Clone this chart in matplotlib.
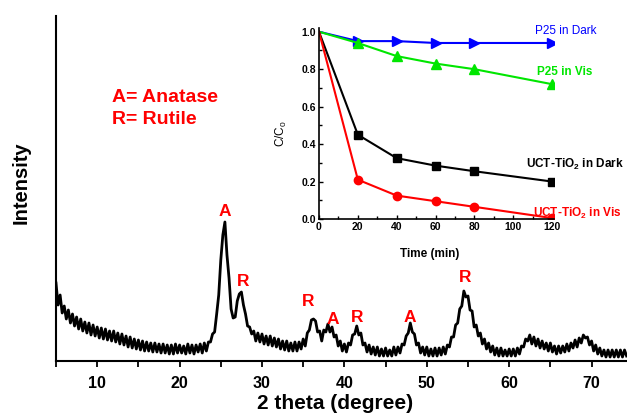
import numpy as np
import matplotlib
matplotlib.use('Agg')
import matplotlib.pyplot as plt
from matplotlib.ticker import MultipleLocator

plt.rcParams['font.family'] = ['Liberation Sans', 'DejaVu Sans']
plt.rcParams['mathtext.fontset'] = 'custom'
plt.rcParams['mathtext.rm'] = 'Liberation Sans'
plt.rcParams['mathtext.bf'] = 'Liberation Sans:bold'

# =====XRD 数据 (2theta 5 ~ 74.25, 步长 0.25, 强度为读图估计的任意单位)
intensity = [
    78, 56, 66, 48,   # 5
    55, 42, 51, 38,   # 6
    47, 35, 44, 32,   # 7
    42, 30, 39, 28,   # 8
    38, 26, 36, 25,   # 9
    34, 23, 33, 22,   # 10
    32, 21, 30, 20,   # 11
    30, 19, 28, 17,   # 12
    27, 16, 25, 14,   # 13
    24, 13, 22, 12,   # 14
    21, 11, 20, 10,   # 15
    19, 10, 18, 9,    # 16
    18, 9, 17, 8,     # 17
    17, 8, 16, 7,     # 18
    16, 7, 17, 8,     # 19
    16, 8, 15, 7,     # 20
    17, 8, 16, 7,     # 21
    16, 9, 17, 8,     # 22
    18, 10, 19, 19,   # 23
    27, 29, 47, 66,   # 24
    101, 126, 139, 106,  # 25
    83, 52, 43, 44,   # 26
    60, 67, 69, 56,   # 27
    47, 35, 34, 27,   # 28
    30, 20, 28, 19,   # 29
    27, 17, 25, 16,   # 30
    25, 15, 23, 14,   # 31
    22, 12, 20, 11,   # 32
    20, 10, 18, 10,   # 33
    19, 10, 19, 12,   # 34
    22, 15, 28, 31,   # 35
    41, 42, 40, 29,   # 36
    30, 20, 31, 29,   # 37
    37, 29, 34, 24,   # 38
    26, 15, 20, 10,   # 39
    17, 9, 18, 16,    # 40
    26, 27, 35, 26,   # 41
    28, 16, 18, 9,    # 42
    16, 7, 14, 6,     # 43
    14, 5, 12, 5,     # 44
    13, 5, 11, 5,     # 45
    14, 6, 14, 8,     # 46
    17, 16, 25, 28,   # 47
    38, 29, 27, 16,   # 48
    18, 8, 14, 6,     # 49
    14, 5, 12, 5,     # 50
    13, 5, 13, 6,     # 51
    14, 7, 16, 14,    # 52
    24, 24, 36, 38,   # 53
    52, 55, 70, 64,   # 54
    65, 51, 50, 34,   # 55
    36, 25, 28, 17,   # 56
    22, 12, 18, 9,    # 57
    15, 6, 13, 5,     # 58
    13, 5, 11, 5,     # 59
    12, 5, 12, 5,     # 60
    13, 7, 15, 14,    # 61
    22, 20, 26, 17,   # 62
    24, 15, 22, 13,   # 63
    20, 12, 18, 10,   # 64
    18, 9, 15, 7,     # 65
    15, 8, 15, 9,     # 66
    17, 10, 18, 13,   # 67
    21, 14, 23, 18,   # 68
    26, 23, 24, 16,   # 69
    20, 10, 16, 7,    # 70
    13, 5, 11, 4,     # 71
    11, 4, 11, 4,     # 72
    11, 4, 11, 4,     # 73
    11, 5,            # 74
]
two_theta = np.linspace(5, 74.25, len(intensity))

# 峰标注
peak_labels = ['A', 'R', 'R', 'A', 'R', 'A', 'R']
peak_x = [25.5, 27.7, 35.6, 38.6, 41.5, 48.0, 54.7]
peak_y = [149, 80, 59, 42, 43, 44, 83]

# =====降解数据
time_min = [0, 20, 40, 60, 80, 120]
p25_dark = [1.0, 0.95, 0.95, 0.94, 0.94, 0.94]
p25_vis = [1.0, 0.94, 0.87, 0.83, 0.80, 0.72]
uct_dark = [1.0, 0.45, 0.325, 0.285, 0.255, 0.20]
uct_vis = [1.0, 0.21, 0.125, 0.095, 0.065, 0.005]

fig = plt.figure(figsize=(6.27, 4.16), dpi=100)

# =====主图
ax = fig.add_axes([56 / 627, 1 - 361 / 416, 1 - 56 / 627, 345 / 416])
ax.plot(two_theta, intensity, color='black', lw=2.0)
ax.set_xlim(5, 74.3)
ax.set_ylim(0, 345)
ax.spines['top'].set_visible(False)
ax.spines['right'].set_visible(False)
ax.spines['left'].set_linewidth(1.5)
ax.spines['bottom'].set_linewidth(1.5)
ax.set_yticks([])
ax.xaxis.set_major_locator(MultipleLocator(10))
ax.xaxis.set_minor_locator(MultipleLocator(5))
ax.tick_params(axis='x', which='both', direction='out', length=4, width=1.3)
ax.tick_params(axis='x', which='major', pad=7)
ax.set_xticks([10, 20, 30, 40, 50, 60, 70])
for lab in ax.get_xticklabels():
    lab.set_fontsize(11.5)
    lab.set_fontweight('bold')
ax.set_xlabel('2 theta (degree)', fontsize=15, fontweight='bold')
ax.xaxis.set_label_coords(0.489, -0.096)
ax.set_ylabel('Intensity', fontsize=14.5, fontweight='bold')
ax.yaxis.set_label_coords(-0.044, 0.516)

for t, x, y in zip(peak_labels, peak_x, peak_y):
    ax.text(x, y, t, color='#ff0000', fontsize=12.5, fontweight='bold',
            ha='center', va='center')

ax.text(11.8, 264, 'A= Anatase', color='#ff0000', fontsize=14, fontweight='bold',
        ha='left', va='center')
ax.text(11.8, 241, 'R= Rutile', color='#ff0000', fontsize=14, fontweight='bold',
        ha='left', va='center')

# =====插图
ins = fig.add_axes([319 / 627, 1 - 219 / 416, 235 / 627, 191 / 416])
ins.patch.set_alpha(0)
ins.plot(time_min, p25_dark, color='#0000ff', lw=1.5, marker='>', ms=6.5, markevery=slice(1, None))
ins.plot(time_min, p25_vis, color='#00e600', lw=1.5, marker='^', ms=6.5, markevery=slice(1, None))
ins.plot(time_min, uct_dark, color='black', lw=1.5, marker='s', ms=5.5, markevery=slice(1, None))
ins.plot(time_min, uct_vis, color='#ff0000', lw=1.5, marker='o', ms=6, markevery=slice(1, None))
ins.set_xlim(0, 121)
ins.set_ylim(0, 1.02)
ins.spines['top'].set_visible(False)
ins.spines['right'].set_visible(False)
ins.spines['left'].set_linewidth(1.2)
ins.spines['bottom'].set_linewidth(1.2)
ins.set_xticks([0, 20, 40, 60, 80, 100, 120])
ins.set_yticks([0.0, 0.2, 0.4, 0.6, 0.8, 1.0])
ins.set_yticklabels(['0.0', '0.2', '0.4', '0.6', '0.8', '1.0'])
ins.xaxis.set_minor_locator(MultipleLocator(10))
ins.yaxis.set_minor_locator(MultipleLocator(0.1))
ins.tick_params(which='both', direction='in', width=1)
ins.tick_params(which='major', length=3, pad=2)
ins.tick_params(which='minor', length=2)
for lab in ins.get_xticklabels() + ins.get_yticklabels():
    lab.set_fontsize(7.5)
    lab.set_fontweight('bold')
ins.set_xlabel('Time (min)', fontsize=8.5, fontweight='bold')
ins.xaxis.set_label_coords(0.47, -0.152)
ins.set_ylabel(r'C/C$_\mathregular{0}$', fontsize=8.5)
ins.yaxis.set_label_coords(-0.128, 0.445)

ins.text(111.2, 1.005, 'P25 in Dark', color='#0000ff', fontsize=8.5,
         ha='left', va='center', clip_on=False)
ins.text(112.3, 0.786, 'P25 in Vis', color='#00e600', fontsize=8.5, fontweight='bold',
         ha='left', va='center', clip_on=False)
ins.text(106.6, 0.289, r'UCT-TiO$_\mathbf{2}$ in Dark', color='black', fontsize=8.5,
         fontweight='bold', ha='left', va='center', clip_on=False)
ins.text(110.2, 0.032, r'UCT-TiO$_\mathbf{2}$ in Vis', color='#ff0000', fontsize=8.5,
         fontweight='bold', ha='left', va='center', clip_on=False)

fig.savefig('out.png', dpi=100)
